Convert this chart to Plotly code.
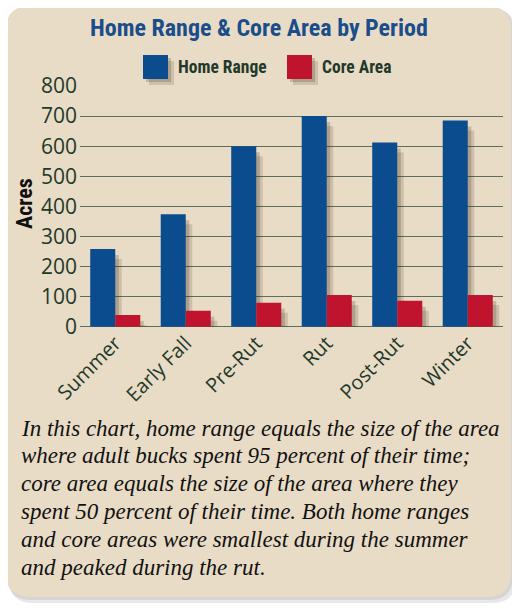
import plotly.graph_objects as go

periods = ["Summer", "Early Fall", "Pre-Rut", "Rut", "Post-Rut", "Winter"]
home_range = [258, 374, 600, 700, 612, 685]
core_area = [39, 53, 80, 105, 86, 105]
y_ticks = [0, 100, 200, 300, 400, 500, 600, 700, 800]
caption_lines = [
    "In this chart, home range equals the size of the area",
    "where adult bucks spent 95 percent of their time;",
    "core area equals the size of the area where they",
    "spent 50 percent of their time. Both home ranges",
    "and core areas were smallest during the summer",
    "and peaked during the rut.",
]

# the page puts the figure 8px in from the top-left corner
OFF = 8
W, H = 520 - OFF, 609 - OFF
BLUE = "#0b4c8e"
RED = "#c0132d"
BEIGE = "#e9dcc6"
TXT = "#22392a"
GRID = "#5d6e5c"

def px(x):
    return (x - OFF) / W

def py(y):
    return 1 - (y - OFF) / H

def rrect(x0, y0, x1, y1, r):
    rx, ry = r / W, r / H
    X0, X1 = px(x0), px(x1)
    Y0, Y1 = py(y0), py(y1)
    return (f"M {X0+rx},{Y0} L {X1-rx},{Y0} Q {X1},{Y0} {X1},{Y0-ry} "
            f"L {X1},{Y1+ry} Q {X1},{Y1} {X1-rx},{Y1} L {X0+rx},{Y1} "
            f"Q {X0},{Y1} {X0},{Y1+ry} L {X0},{Y0-ry} Q {X0},{Y0} {X0+rx},{Y0} Z")

fig = go.Figure()

# soft drop shadows: the same data on hidden axes whose ranges are shifted
for ax, col in [("", "rgba(60,45,25,0.16)"), ("2", "rgba(60,45,25,0.22)")]:
    for vals in (home_range, core_area):
        fig.add_trace(go.Bar(x=periods, y=vals, marker=dict(color=col, line_width=0),
                             xaxis="x" + ax, yaxis="y" + ax,
                             showlegend=False, hoverinfo="skip"))

# main bars on the top overlay axes
fig.add_trace(go.Bar(name="Home Range", x=periods, y=home_range, xaxis="x3", yaxis="y3",
                     marker=dict(color=BLUE, line_width=0), showlegend=False))
fig.add_trace(go.Bar(name="Core Area", x=periods, y=core_area, xaxis="x3", yaxis="y3",
                     marker=dict(color=RED, line_width=0), showlegend=False))

x_dom = [px(80), px(503)]
y_dom = [py(326.7), py(86)]
cat_px = (503 - 80) / 6.0
unit_px = (326.7 - 86) / 800

def shifted(ddx, ddy):
    return [-0.5 - ddx / cat_px, 5.5 - ddx / cat_px], [ddy / unit_px, 800 + ddy / unit_px]

xr1, yr1 = shifted(6.5, 10)
xr2, yr2 = shifted(3.5, 6)

shapes = [
    dict(type="path", path=rrect(9, 9, 516, 603, 24), xref="paper", yref="paper",
         fillcolor="rgba(0,0,0,0.09)", line_width=0, layer="below"),
    dict(type="path", path=rrect(7, 7, 513, 600, 24), xref="paper", yref="paper",
         fillcolor="rgba(0,0,0,0.08)", line_width=0, layer="below"),
    dict(type="path", path=rrect(6, 6, 511, 597, 24), xref="paper", yref="paper",
         fillcolor=BEIGE, line_width=0, layer="below"),
]

# legend swatches
for (x0, col) in [(143, BLUE), (287, RED)]:
    shapes.append(dict(type="rect", xref="paper", yref="paper",
                       x0=px(x0 + 6), x1=px(x0 + 31), y0=py(85), y1=py(61),
                       fillcolor="rgba(60,45,25,0.16)", line_width=0))
    shapes.append(dict(type="rect", xref="paper", yref="paper",
                       x0=px(x0 + 3), x1=px(x0 + 28), y0=py(82), y1=py(58),
                       fillcolor="rgba(60,45,25,0.22)", line_width=0))
    shapes.append(dict(type="rect", xref="paper", yref="paper",
                       x0=px(x0), x1=px(x0 + 25), y0=py(79), y1=py(55),
                       fillcolor=col, line_width=0))

COND = "Roboto Condensed, Liberation Sans Narrow, Roboto, sans-serif"
SERIF = "Liberation Serif, DejaVu Serif, serif"
annotations = [
    dict(text="<b>Home Range & Core Area by Period</b>", x=px(259), y=py(28),
         xref="paper", yref="paper", showarrow=False, xanchor="center", yanchor="middle",
         font=dict(family=COND, size=24, color="#1a4d8a")),
    dict(text="<b>Home Range</b>", x=px(176), y=py(67), xref="paper", yref="paper",
         showarrow=False, xanchor="left", yanchor="middle",
         font=dict(family=COND, size=17.5, color=TXT)),
    dict(text="<b>Core Area</b>", x=px(320), y=py(67), xref="paper", yref="paper",
         showarrow=False, xanchor="left", yanchor="middle",
         font=dict(family=COND, size=17.5, color=TXT)),
    dict(text="<b>Acres</b>", x=px(25), y=py(204), xref="paper", yref="paper",
         showarrow=False, xanchor="center", yanchor="middle", textangle=-90,
         font=dict(family=COND, size=22, color="#111111")),
]
FS = 23
for i, line in enumerate(caption_lines):
    baseline = 435 + 27.8 * i
    annotations.append(dict(text=line, x=px(19), y=py(baseline - 0.3 * FS),
                            xref="paper", yref="paper", showarrow=False,
                            xanchor="left", yanchor="middle", align="left",
                            font=dict(family=SERIF, size=FS, color="#111111", style="italic")))

hidden = dict(visible=False, automargin=False, showgrid=False, zeroline=False)
fig.update_layout(
    width=W, height=H,
    autosize=False,
    margin=dict(l=0, r=0, t=0, b=0, pad=0),
    paper_bgcolor="white",
    plot_bgcolor="rgba(0,0,0,0)",
    barmode="group",
    bargap=0.29,
    bargroupgap=0,
    showlegend=False,
    shapes=shapes,
    annotations=annotations,
    xaxis=dict(domain=x_dom, range=xr1, **hidden),
    yaxis=dict(domain=y_dom, range=yr1, **hidden),
    xaxis2=dict(domain=x_dom, overlaying="x", anchor="y2", range=xr2, **hidden),
    yaxis2=dict(domain=y_dom, overlaying="y", anchor="x2", range=yr2, **hidden),
    xaxis3=dict(domain=x_dom, overlaying="x", anchor="y3", side="bottom",
                range=[-0.5, 5.5], showgrid=False, showline=False,
                ticks="", tickangle=-45, automargin=False,
                tickfont=dict(family="Open Sans, Noto Sans, sans-serif", size=20, color=TXT)),
    yaxis3=dict(domain=y_dom, overlaying="y", anchor="x3", side="left",
                range=[0, 800], tickvals=y_ticks, showgrid=True,
                gridcolor=GRID, gridwidth=1, zeroline=True, zerolinecolor=GRID,
                zerolinewidth=1, showline=False, ticks="", ticklabelstandoff=2,
                automargin=False,
                tickfont=dict(family="Open Sans, Noto Sans, sans-serif", size=21, color=TXT)),
)

fig.write_html("out.html")
